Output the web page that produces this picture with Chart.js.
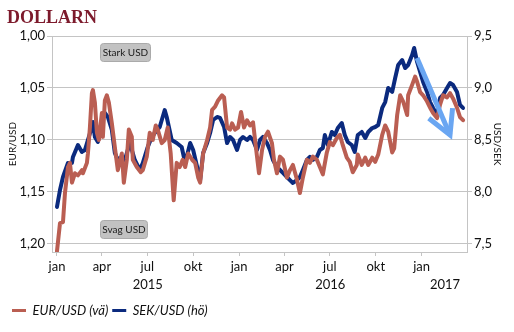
<!DOCTYPE html>
<html><head><meta charset="utf-8">
<script src="https://cdn.jsdelivr.net/npm/chart.js@4/dist/chart.umd.min.js"></script>
<style>html,body{margin:0;padding:0;background:#fff}#wrap{width:514px;height:332px;position:relative}</style>
</head><body><div id="wrap"><canvas id="c" width="514" height="332"></canvas></div>
<script>
// ---- data (x = days since 1 Jan 2015) ----
const seriesNames = ['EUR/USD (vä)', 'SEK/USD (hö)'];
const eurDays = [0,6,12,16,22,26,30,36,42,50,52,60,62,66,70,72,76,80,84,90,92,96,100,104,110,116,122,130,134,140,144,150,152,160,168,172,180,186,192,198,202,210,216,222,228,234,240,246,252,257,263,271,277,283,287,293,301,307,311,317,323,331,335,341,347,351,357,363,369,375,381,387,393,401,405,411,417,423,431,435,441,447,453,461,467,473,481,487,493,501,507,513,521,527,533,541,547,553,561,567,573,581,587,593,601,603,611,618,624,632,638,644,652,658,664,672,676,682,688,694,702,704,712,718,722,728,734,742,748,754,762,768,774,782,788,794,802,808,814];
const eurValues = [1.207,1.180,1.179,1.151,1.126,1.122,1.141,1.132,1.134,1.129,1.132,1.122,1.113,1.088,1.055,1.052,1.064,1.093,1.100,1.074,1.097,1.062,1.057,1.064,1.084,1.107,1.129,1.113,1.141,1.119,1.090,1.097,1.119,1.126,1.131,1.129,1.116,1.093,1.100,1.086,1.090,1.103,1.100,1.088,1.113,1.158,1.122,1.126,1.119,1.126,1.113,1.119,1.122,1.136,1.141,1.113,1.100,1.088,1.071,1.068,1.062,1.057,1.059,1.088,1.090,1.084,1.090,1.088,1.073,1.088,1.081,1.086,1.083,1.116,1.132,1.110,1.097,1.092,1.103,1.119,1.132,1.116,1.119,1.136,1.129,1.124,1.138,1.151,1.136,1.119,1.122,1.116,1.119,1.126,1.133,1.112,1.102,1.105,1.098,1.095,1.105,1.117,1.121,1.131,1.124,1.114,1.124,1.117,1.124,1.117,1.121,1.114,1.095,1.086,1.092,1.112,1.108,1.076,1.057,1.063,1.076,1.057,1.047,1.039,1.044,1.054,1.057,1.063,1.069,1.074,1.079,1.066,1.057,1.059,1.055,1.060,1.069,1.078,1.081];
const sekDays = [0,6,12,22,30,32,42,50,56,62,70,72,76,82,90,96,102,110,116,122,130,136,146,156,166,172,182,190,196,206,216,220,230,240,250,257,267,273,281,287,293,301,307,313,321,327,335,341,347,353,361,367,373,381,387,393,401,407,413,421,427,433,441,447,453,461,467,473,481,487,493,501,507,513,521,527,533,537,543,551,557,563,571,577,583,591,597,603,611,618,624,632,638,644,652,658,664,672,678,684,692,698,704,712,716,722,728,734,742,748,754,762,768,774,782,788,794,802,808,814];
const sekValues = [7.856,8.019,8.144,8.279,8.279,8.337,8.452,8.385,8.404,8.500,8.625,8.673,8.529,8.481,8.692,8.760,8.721,8.596,8.375,8.308,8.337,8.308,8.471,8.308,8.212,8.279,8.433,8.529,8.567,8.625,8.788,8.721,8.500,8.471,8.433,8.279,8.471,8.404,8.240,8.115,8.375,8.471,8.567,8.692,8.721,8.712,8.625,8.471,8.529,8.500,8.404,8.500,8.529,8.500,8.529,8.500,8.404,8.500,8.529,8.471,8.404,8.308,8.240,8.212,8.183,8.144,8.115,8.087,8.115,8.144,8.212,8.308,8.337,8.308,8.337,8.404,8.423,8.548,8.452,8.577,8.548,8.615,8.663,8.548,8.481,8.452,8.385,8.548,8.577,8.519,8.577,8.615,8.625,8.644,8.808,8.865,9.000,8.962,9.096,9.221,9.269,9.192,9.221,9.317,9.385,9.250,9.154,9.058,8.962,8.865,8.808,8.740,8.904,8.933,9.000,9.048,9.029,8.962,8.837,8.808];
const monthTickDays = [0,90,181,273,365,456,547,639,731];
const monthTickLabels = ['jan','apr','jul','okt','jan','apr','jul','okt','jan'];
const yearTickDays = [182,548,778];
const yearTickLabels = ['2015','2016','2017'];
const leftTickValues = [1.00,1.05,1.10,1.15,1.20];
const leftTickLabels = ['1,00','1,05','1,10','1,15','1,20'];
const rightTickValues = [9.5,9.0,8.5,8.0,7.5];
const rightTickLabels = ['9,5','9,0','8,5','8,0','7,5'];
const chartTitle = 'DOLLARN';
const noteStrong = 'Stark USD';
const noteWeak = 'Svag USD';
const leftAxisTitle = 'EUR/USD';
const rightAxisTitle = 'USD/SEK';

// ---- styling ----
const RED = '#BA5E52', BLUE = '#0B2A7E', GRID = '#C4C4C4', TXT = '#111';
Chart.defaults.font.family = 'Lato';
Chart.defaults.color = TXT;

const toXY = (xs, ys) => xs.map((x, i) => ({x: x, y: ys[i]}));

const decor = {
  id: 'decor',
  afterDatasetsDraw(chart) {
    const ctx = chart.ctx, a = chart.chartArea;
    // arrow
    ctx.save();
    ctx.strokeStyle = '#6AA6F2';
    ctx.lineWidth = 5;
    ctx.lineJoin = 'miter';
    ctx.lineCap = 'butt';
    const sx = a.left + 365, sy = a.top + 22, tx = a.left + 398, ty = a.top + 99;
    ctx.beginPath(); ctx.moveTo(sx, sy); ctx.lineTo(tx, ty); ctx.stroke();
    const ang = Math.atan2(sy - ty, sx - tx), L = 27, spread = 0.5;
    ctx.beginPath();
    ctx.moveTo(tx + L * Math.cos(ang - spread), ty + L * Math.sin(ang - spread));
    ctx.lineTo(tx, ty);
    ctx.lineTo(tx + L * Math.cos(ang + spread), ty + L * Math.sin(ang + spread));
    ctx.stroke();
    ctx.restore();
  },
  afterDraw(chart) {
    const ctx = chart.ctx, a = chart.chartArea;
    ctx.save();
    ctx.fillStyle = '#7D1A2C';
    ctx.font = 'bold 18px "Liberation Serif"';
    ctx.textBaseline = 'alphabetic';
    ctx.textAlign = 'left';
    ctx.fillText(chartTitle, 7, 23);
    const box = (txt, x, y, w, h) => {
      ctx.beginPath();
      ctx.roundRect(x, y, w, h, 3);
      ctx.fillStyle = '#C2C2C2';
      ctx.fill();
      ctx.strokeStyle = '#AAAAAA';
      ctx.lineWidth = 1;
      ctx.stroke();
      ctx.fillStyle = '#1a1a1a';
      ctx.font = '10px Lato';
      ctx.textAlign = 'center';
      ctx.textBaseline = 'middle';
      ctx.fillText(txt, x + w / 2, y + h / 2 + 0.5);
    };
    box(noteStrong, a.left + 48.5, a.top + 7.5, 50, 18);
    box(noteWeak, a.left + 48.5, a.top + 184.5, 47, 18);
    ctx.restore();
  }
};

new Chart(document.getElementById('c'), {
  type: 'line',
  data: {
    datasets: [
      {label: seriesNames[0], data: toXY(eurDays, eurValues), yAxisID: 'y', xAxisID: 'x',
       borderColor: RED, backgroundColor: RED, borderWidth: 4, pointRadius: 0, tension: 0,
       borderJoinStyle: 'round', borderCapStyle: 'round'},
      {label: seriesNames[1], data: toXY(sekDays, sekValues), yAxisID: 'y2', xAxisID: 'x',
       borderColor: BLUE, backgroundColor: BLUE, borderWidth: 4, pointRadius: 0, tension: 0,
       borderJoinStyle: 'round', borderCapStyle: 'round'}
    ]
  },
  options: {
    responsive: false, animation: false, devicePixelRatio: 1,
    layout: {padding: {left: 8, right: 0, top: 36, bottom: 5}},
    plugins: {
      tooltip: {enabled: false},
      title: {display: false},
      legend: {
        position: 'bottom', align: 'start',
        labels: {
          boxWidth: 14, boxHeight: 3, padding: 4,
          font: {size: 13, style: 'italic', family: 'Lato'}, color: TXT,
          generateLabels: (chart) => chart.data.datasets.map((ds, i) => ({
            text: ds.label, fillStyle: ds.borderColor, strokeStyle: ds.borderColor,
            lineWidth: 0, hidden: false, datasetIndex: i, fontColor: TXT
          }))
        }
      }
    },
    scales: {
      x: {
        type: 'linear', position: 'bottom', weight: 0, min: -10, max: 822,
        afterBuildTicks: s => { s.ticks = monthTickDays.map(v => ({value: v})); },
        afterFit: s => { s.height = 22; },
        ticks: {callback: (v, i) => monthTickLabels[i], autoSkip: false, maxRotation: 0, padding: 3, font: {size: 13}, color: TXT},
        grid: {drawOnChartArea: false, drawTicks: true, tickLength: 4, color: GRID},
        border: {color: GRID}
      },
      x2: {
        type: 'linear', position: 'bottom', weight: 1, min: -10, max: 822,
        afterBuildTicks: s => { s.ticks = yearTickDays.map(v => ({value: v})); },
        afterFit: s => { s.height = 26; },
        ticks: {callback: (v, i) => yearTickLabels[i], autoSkip: false, maxRotation: 0, padding: 3, font: {size: 13}, color: TXT},
        grid: {display: false, drawTicks: false},
        border: {display: false}
      },
      y: {
        type: 'linear', position: 'left', reverse: true, min: 1.0, max: 1.2077,
        afterBuildTicks: s => { s.ticks = leftTickValues.map(v => ({value: v})); },
        afterFit: s => { s.width = 44; },
        ticks: {callback: (v, i) => leftTickLabels[i], padding: 2, font: {size: 13}, color: TXT},
        grid: {color: GRID, tickLength: 5},
        border: {color: GRID},
        title: {display: true, text: leftAxisTitle, font: {size: 10, lineHeight: 1}, padding: 0, color: TXT}
      },
      y2: {
        type: 'linear', position: 'right', min: 7.423, max: 9.5,
        afterBuildTicks: s => { s.ticks = rightTickValues.map(v => ({value: v})); },
        afterFit: s => { s.width = 47; },
        ticks: {callback: (v, i) => rightTickLabels[i], padding: 2, font: {size: 13}, color: TXT},
        grid: {drawOnChartArea: false, color: GRID, tickLength: 5},
        border: {color: GRID},
        title: {display: true, text: rightAxisTitle, font: {size: 10}, padding: {top: 11, bottom: 0}, color: TXT}
      }
    }
  },
  plugins: [decor]
});
</script></body></html>
